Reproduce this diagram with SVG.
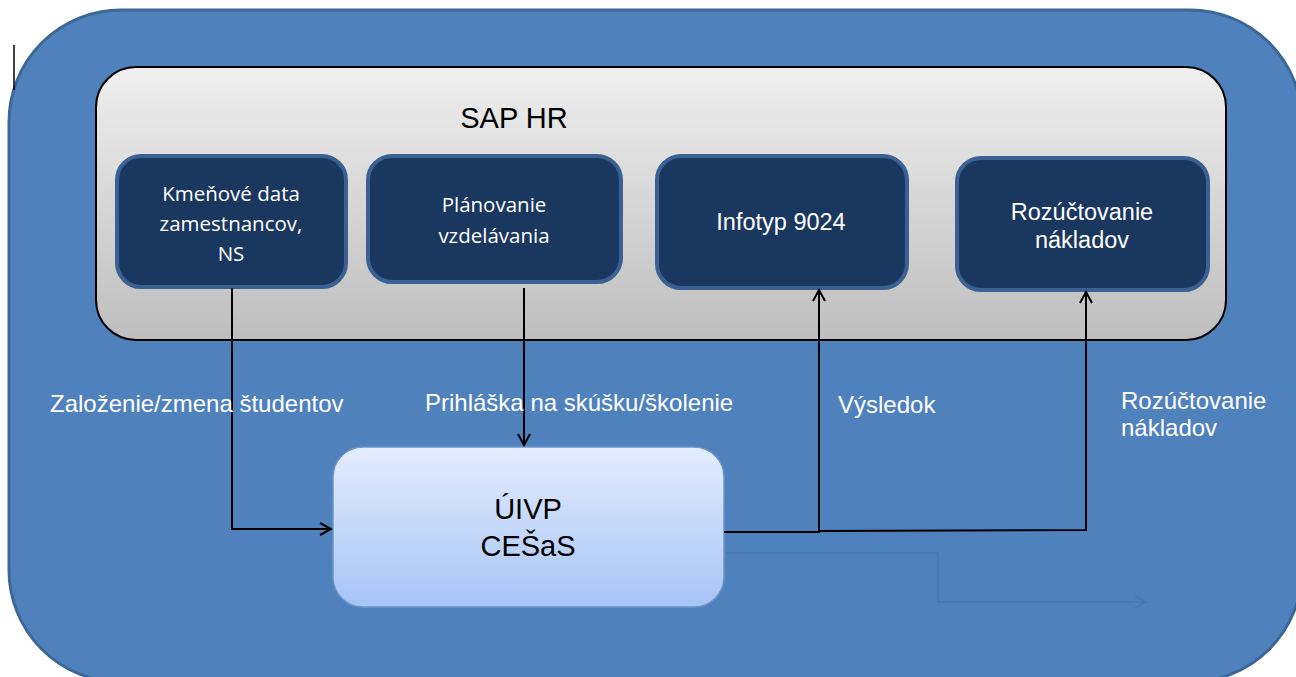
<svg xmlns="http://www.w3.org/2000/svg" width="1296" height="677" viewBox="0 0 1296 677">
<style>
.lbl{font-family:"Liberation Sans",Arial,sans-serif;fill:#ffffff;font-size:24px}
.box{fill:#1a375f;stroke:#3b6192;stroke-width:4}
.btxt{font-family:"Open Sans","Noto Sans",sans-serif;fill:#ffffff;font-size:20.5px;text-anchor:middle}
.btxt2{font-family:"Liberation Sans",Arial,sans-serif;fill:#ffffff;font-size:23.5px;text-anchor:middle}
.conn{fill:none;stroke:#000;stroke-width:2}
</style>
<defs>
<linearGradient id="gray" x1="0" y1="0" x2="0" y2="1">
<stop offset="0" stop-color="#efefef"/>
<stop offset="1" stop-color="#bebebe"/>
</linearGradient>
<linearGradient id="light" x1="0" y1="0" x2="0" y2="1">
<stop offset="0" stop-color="#e4edfd"/>
<stop offset="1" stop-color="#a6c4f7"/>
</linearGradient>
<marker id="open" markerWidth="14" markerHeight="14" refX="12" refY="7" orient="auto" markerUnits="userSpaceOnUse">
<path d="M1,1 L12,7 L1,13" fill="none" stroke="#000" stroke-width="2"/>
</marker>
<marker id="faint" markerWidth="14" markerHeight="14" refX="12" refY="7" orient="auto" markerUnits="userSpaceOnUse">
<path d="M1,1 L12,7 L1,13" fill="none" stroke="#4878b3" stroke-width="1.5"/>
</marker>
</defs>
<rect x="0" y="0" width="1296" height="677" fill="#ffffff"/>
<g id="outer">
<rect x="9" y="10" width="1293" height="672" rx="112" ry="112" fill="#4f81bd" stroke="#3d6797" stroke-width="3"/>
</g>
<line x1="14" y1="45" x2="14" y2="90" stroke="#000" stroke-width="1.5"/>
<g id="sap-hr">
<rect x="96" y="67" width="1130" height="273" rx="40" ry="40" fill="url(#gray)" stroke="#000" stroke-width="2"/>
<text x="514" y="128" font-family="Liberation Sans,Arial,sans-serif" font-size="29" fill="#000" text-anchor="middle">SAP HR</text>
</g>
<g id="kmenove">
<rect class="box" x="117" y="156" width="229" height="131" rx="24"/>
<text class="btxt" x="231" y="201">Kmeňové data</text>
<text class="btxt" x="231" y="231">zamestnancov,</text>
<text class="btxt" x="231" y="261">NS</text>
</g>
<g id="planovanie">
<rect class="box" x="368" y="156" width="253" height="126" rx="24"/>
<text class="btxt" x="494" y="212">Plánovanie</text>
<text class="btxt" x="494" y="243">vzdelávania</text>
</g>
<g id="infotyp">
<rect class="box" x="657" y="156" width="250" height="132" rx="24"/>
<text class="btxt2" x="781" y="230">Infotyp 9024</text>
</g>
<g id="rozuctovanie">
<rect class="box" x="957" y="158" width="251" height="132" rx="24"/>
<text class="btxt2" x="1082" y="220">Rozúčtovanie</text>
<text class="btxt2" x="1082" y="248">nákladov</text>
</g>
<g id="uivp">
<rect x="333" y="447" width="391" height="160" rx="30" ry="30" fill="url(#light)" stroke="#6f95c8" stroke-width="1.5"/>
<text x="528" y="519" font-family="Liberation Sans,Arial,sans-serif" font-size="29" fill="#000" text-anchor="middle">ÚIVP</text>
<text x="528" y="556" font-family="Liberation Sans,Arial,sans-serif" font-size="29" fill="#000" text-anchor="middle">CEŠaS</text>
</g>
<g id="connectors">
<path class="conn" d="M232,288 L232,529 L331,529" marker-end="url(#open)"/>
<path class="conn" d="M524,288 L524,445" marker-end="url(#open)"/>
<path class="conn" d="M724,532 L819,532 L819,290" marker-end="url(#open)"/>
<path class="conn" d="M819,531 L1086,530 L1086,292" marker-end="url(#open)"/>
<path d="M726,553 L938,553 L938,602 L1146,602" fill="none" stroke="#4878b3" stroke-width="1.5" marker-end="url(#faint)"/>
</g>
<g id="labels">
<text class="lbl" x="50" y="412">Založenie/zmena študentov</text>
<text class="lbl" x="425" y="411">Prihláška na skúšku/školenie</text>
<text class="lbl" x="838" y="413">Výsledok</text>
<text class="lbl" x="1121" y="409">Rozúčtovanie</text>
<text class="lbl" x="1121" y="436">nákladov</text>
</g>
</svg>
